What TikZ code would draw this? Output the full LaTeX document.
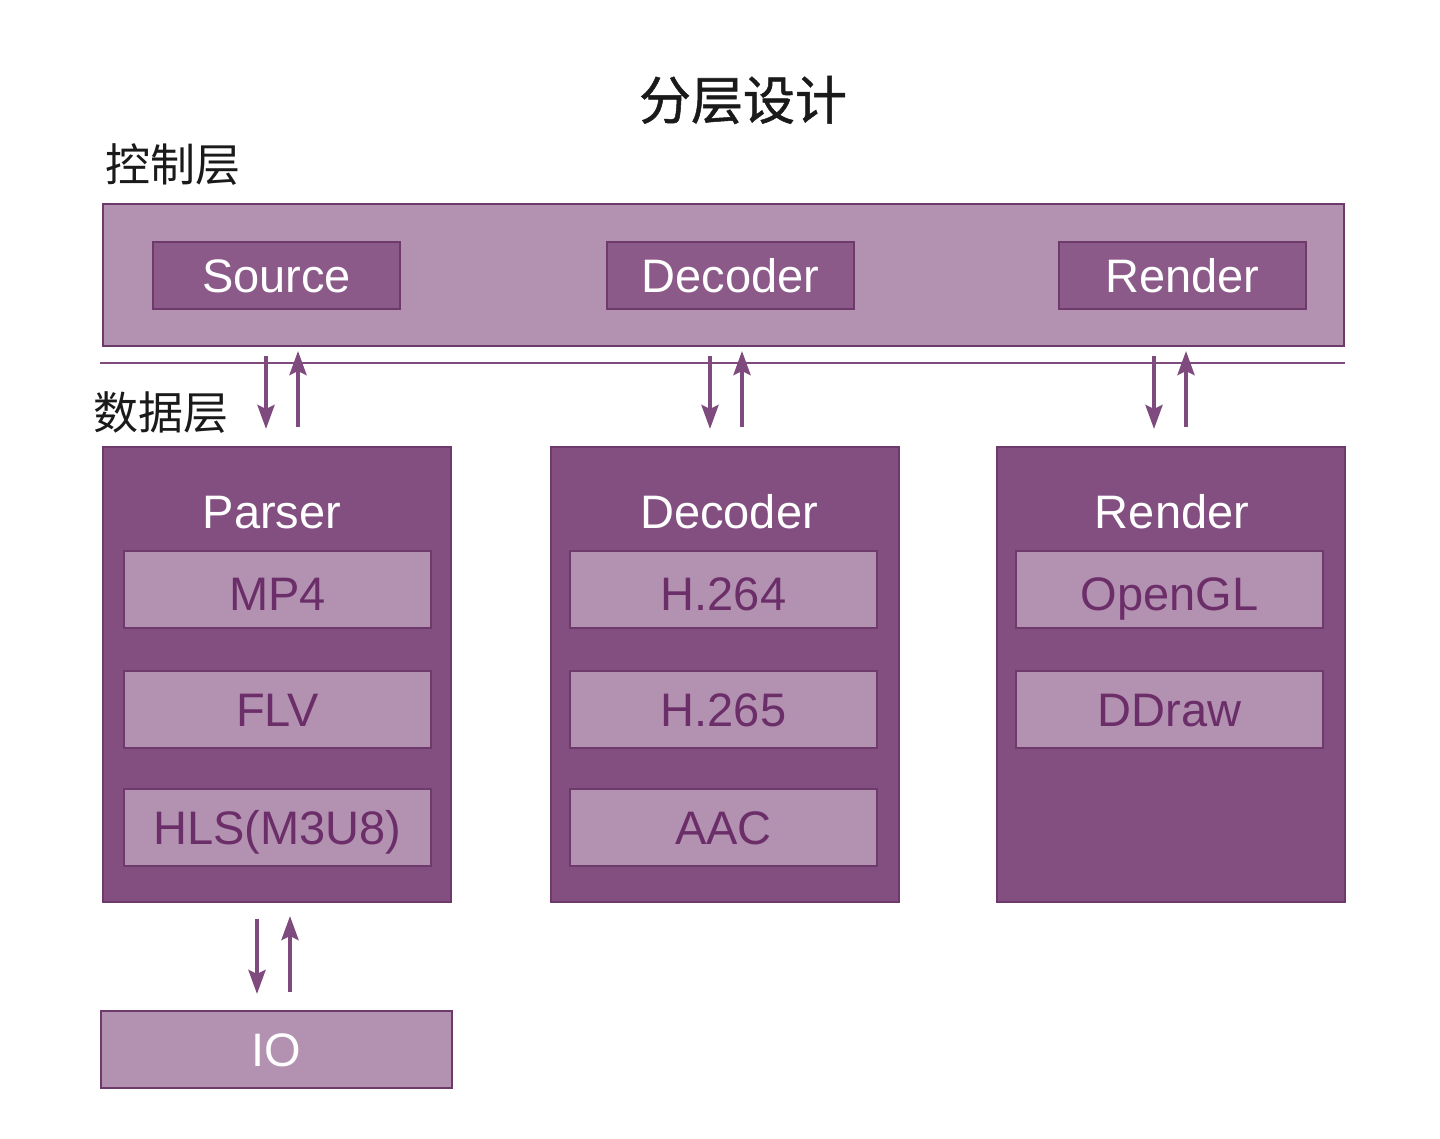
\documentclass[tikz,border=0pt]{standalone}
\usepackage{fontspec}
\setmainfont{Liberation Sans}
\newfontfamily\cjk{Noto Sans CJK SC}
\newfontfamily\cjkmed[FakeBold=1]{Noto Sans CJK SC}
\usetikzlibrary{arrows.meta}
\definecolor{lightp}{HTML}{B291B1}
\definecolor{darkp}{HTML}{834F81}
\definecolor{midp}{HTML}{8B5A89}
\definecolor{edgep}{HTML}{6E3A6C}
\definecolor{textp}{HTML}{6B2E69}
\definecolor{arrp}{HTML}{7F4A7D}
\definecolor{ink}{HTML}{1A1A1A}
\begin{document}
\begin{tikzpicture}[x=0.5pt,y=-0.5pt,
  box/.style={draw=edgep,line width=1pt,rectangle,inner sep=0pt,font=\fontsize{23.5pt}{28pt}\selectfont,text height=17pt,text depth=0pt},
  ctrlbox/.style={box,fill=midp,text=white,minimum width=123.5pt,minimum height=33.5pt},
  databox/.style={box,fill=darkp,minimum width=174pt,minimum height=227.5pt},
  itembox/.style={box,fill=lightp,text=textp,minimum width=153.5pt,minimum height=38.5pt},
  toprow/.style={itembox,text height=21pt},
  title/.style={text=white,font=\fontsize{23.5pt}{28pt}\selectfont,inner sep=0pt,text height=17pt,text depth=0pt},
  arr/.style={draw=arrp,line width=2pt,-{Stealth[length=12pt,width=8.5pt,inset=2pt]}},
  cjklabel/.style={text=ink,font=\cjk\fontsize{22.5pt}{26pt}\selectfont,inner sep=0pt}
]
\useasboundingbox (0,0) rectangle (1440,1139);
% title
\node[text=ink,font=\cjkmed\fontsize{26pt}{30pt}\selectfont] (maintitle) at (743,100) {分层设计};
\node[cjklabel,anchor=west] (lctrl) at (105,165) {控制层};
\node[cjklabel,anchor=west] (ldata) at (93,413) {数据层};
% control layer
\node[box,fill=lightp,minimum width=620.5pt,minimum height=71pt] (ctrl) at (723.5,275) {};
\node[ctrlbox] (src) at (276.5,275.5) {Source};
\node[ctrlbox] (cdec) at (730.5,275.5) {Decoder};
\node[ctrlbox] (cren) at (1182.5,275.5) {Render};
% separator
\coordinate (sepL) at (100,363);
\coordinate (sepR) at (1345,363);
\draw[arrp,line width=1pt] (sepL) -- (sepR);
% data layer
\node[databox] (dP) at (277,674.5) {};
\node[databox] (dD) at (724.5,674.5) {};
\node[databox] (dR) at (1170.5,674.5) {};
\node[title] (tP) at (272,511) {Parser};
\node[title] (tD) at (729,511) {Decoder};
\node[title] (tR) at (1172,511) {Render};
\node[toprow] (mp4) at (277.5,589.5) {MP4};
\node[itembox] (flv) at (277.5,709) {FLV};
\node[itembox] (hls) at (277.5,827.5) {HLS(M3U8)};
\node[toprow] (h264) at (723.5,589.5) {H.264};
\node[itembox] (h265) at (723.5,709) {H.265};
\node[itembox] (aac) at (723.5,827.5) {AAC};
\node[toprow] (ogl) at (1169.5,589.5) {OpenGL};
\node[itembox] (ddr) at (1169.5,709) {DDraw};
% IO
\node[box,fill=lightp,text=white,minimum width=175.5pt,minimum height=38.5pt] (io) at (276.5,1049.5) {IO};
% arrows control <-> data
\draw[arr,shorten <=4.5pt,shorten >=8.5pt] (ctrl.south -| 266,0) -- (dP.north -| 266,0);
\draw[arr,shorten <=9.5pt,shorten >=2pt] (dP.north -| 298,0) -- (ctrl.south -| 298,0);
\draw[arr,shorten <=4.5pt,shorten >=8.5pt] (ctrl.south -| 710,0) -- (dD.north -| 710,0);
\draw[arr,shorten <=9.5pt,shorten >=2pt] (dD.north -| 742,0) -- (ctrl.south -| 742,0);
\draw[arr,shorten <=4.5pt,shorten >=8.5pt] (ctrl.south -| 1154,0) -- (dR.north -| 1154,0);
\draw[arr,shorten <=9.5pt,shorten >=2pt] (dR.north -| 1186,0) -- (ctrl.south -| 1186,0);
% arrows parser <-> IO
\draw[arr,shorten <=8pt,shorten >=8pt] (dP.south -| 257,0) -- (io.north -| 257,0);
\draw[arr,shorten <=9pt,shorten >=6.5pt] (io.north -| 290,0) -- (dP.south -| 290,0);
\end{tikzpicture}
\end{document}
